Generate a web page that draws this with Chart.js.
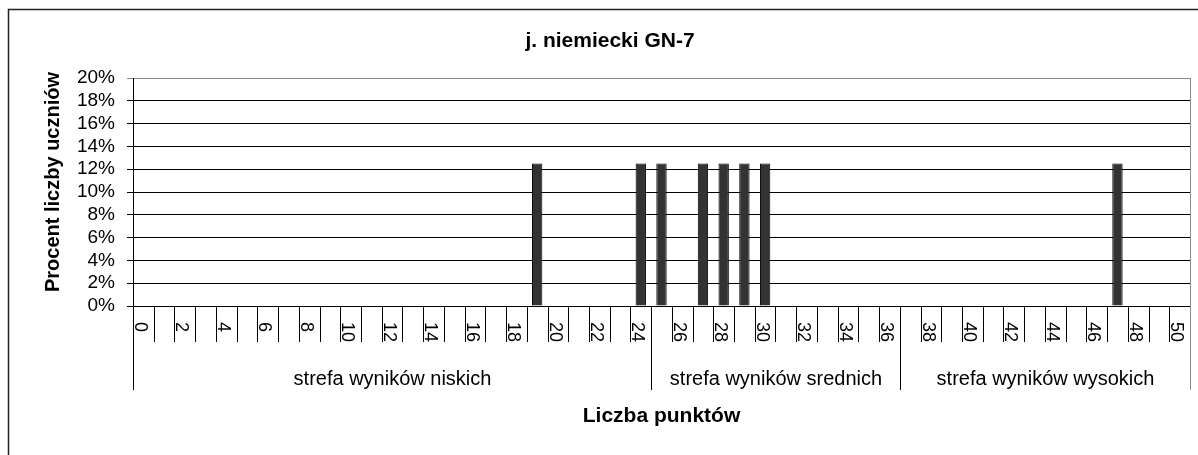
<!DOCTYPE html>
<html>
<head>
<meta charset="utf-8">
<script src="https://cdn.jsdelivr.net/npm/chart.js@4/dist/chart.umd.min.js"></script>
<style>
  html, body { margin: 0; padding: 0; background: #fff; }
  canvas { display: block; }
</style>
</head>
<body>
<canvas id="myChart" width="1198" height="455"></canvas>
<script>
// data
var categories = ['0','1','2','3','4','5','6','7','8','9','10','11','12','13','14','15','16','17','18','19','20',
  '21','22','23','24','25','26','27','28','29','30','31','32','33','34','35','36','37','38','39','40',
  '41','42','43','44','45','46','47','48','49','50'];
var percents = [0,0,0,0,0,0,0,0,0,0,0,0,0,0,0,0,0,0,0,12.5,0,
  0,0,0,12.5,12.5,0,12.5,12.5,12.5,12.5,0,0,0,0,0,0,0,0,0,0,
  0,0,0,0,0,0,12.5,0,0,0];
var xTickLabels = ['0','','2','','4','','6','','8','','10','','12','','14','','16','','18','','20',
  '','22','','24','','26','','28','','30','','32','','34','','36','','38','','40',
  '','42','','44','','46','','48','','50'];
var yTicks = [0,2,4,6,8,10,12,14,16,18,20];
var groupNames = ['strefa wyników niskich', 'strefa wyników srednich', 'strefa wyników wysokich'];
var groupFirst = [0, 25, 37];
var groupLast = [24, 36, 50];

var chartTitle = 'j. niemiecki GN-7';
var yTitle = 'Procent liczby uczniów';
var xTitle = 'Liczba punktów';
var fontFam = '"Liberation Sans", Arial, sans-serif';

var excelAxis = {
  id: 'excelAxis',
  beforeDraw: function(chart) {
    var ctx = chart.ctx;
    ctx.save();
    ctx.fillStyle = '#fff';
    ctx.fillRect(0, 0, chart.width, chart.height);
    // outer frame
    ctx.strokeStyle = '#222';
    ctx.lineWidth = 1.5;
    ctx.beginPath();
    ctx.moveTo(8.5, chart.height);
    ctx.lineTo(8.5, 9.5);
    ctx.lineTo(chart.width, 9.5);
    ctx.stroke();
    ctx.restore();
  },
  afterDraw: function(chart) {
    var ctx = chart.ctx;
    var a = chart.chartArea;
    var x = chart.scales.x;
    var w = x.getPixelForValue(1) - x.getPixelForValue(0);
    var edge = function(i) { return Math.round(x.getPixelForValue(0) - w / 2 + i * w) + 0.5; };
    ctx.save();
    ctx.lineWidth = 1;
    ctx.strokeStyle = '#000';
    // small ticks between categories
    ctx.beginPath();
    for (var i = 1; i < categories.length; i++) {
      ctx.moveTo(edge(i), a.bottom);
      ctx.lineTo(edge(i), 342);
    }
    ctx.stroke();
    // group separators
    ctx.beginPath();
    for (var g = 0; g < groupFirst.length; g++) {
      ctx.moveTo(edge(groupFirst[g]), a.bottom);
      ctx.lineTo(edge(groupFirst[g]), 390);
    }
    ctx.stroke();
    // right border of plot
    ctx.strokeStyle = '#8c8c8c';
    ctx.beginPath();
    ctx.moveTo(edge(categories.length), a.top);
    ctx.lineTo(edge(categories.length), 390);
    ctx.stroke();

    ctx.fillStyle = '#000';
    // rotated tick labels
    ctx.font = '18px ' + fontFam;
    ctx.textAlign = 'left';
    ctx.textBaseline = 'alphabetic';
    for (var k = 0; k < xTickLabels.length; k++) {
      if (!xTickLabels[k]) continue;
      ctx.save();
      ctx.translate(edge(k) + 1, 322);
      ctx.rotate(Math.PI / 2);
      ctx.fillText(xTickLabels[k], 0, 0);
      ctx.restore();
    }
    // group labels
    ctx.font = '20px ' + fontFam;
    ctx.textAlign = 'center';
    for (var j = 0; j < groupNames.length; j++) {
      var cx = (edge(groupFirst[j]) + edge(groupLast[j] + 1)) / 2;
      ctx.fillText(groupNames[j], cx, 385);
    }
    // titles
    ctx.font = 'bold 21px ' + fontFam;
    ctx.fillText(chartTitle, 610, 47);
    ctx.fillText(xTitle, (a.left + a.right) / 2, 422);
    ctx.font = 'bold 20px ' + fontFam;
    ctx.save();
    ctx.translate(59, 182);
    ctx.rotate(-Math.PI / 2);
    ctx.fillText(yTitle, 0, 0);
    ctx.restore();
    ctx.restore();
  }
};

var ctx = document.getElementById('myChart');
var myChart = new Chart(ctx, {
  type: 'bar',
  data: {
    labels: categories,
    datasets: [{
      label: 'Procent',
      data: percents,
      backgroundColor: '#333333',
      borderColor: '#000',
      borderWidth: 1,
      barPercentage: 0.5,
      categoryPercentage: 1.0
    }]
  },
  options: {
    responsive: false,
    animation: false,
    layout: { padding: { top: 78, right: 8, left: 0, bottom: 0 } },
    plugins: {
      legend: { display: false },
      tooltip: { enabled: false }
    },
    scales: {
      x: {
        ticks: { display: false },
        grid: { display: false },
        border: { display: true, color: '#000' },
        afterFit: function(scale) { scale.height = 455 - 306; }
      },
      y: {
        min: yTicks[0],
        max: yTicks[yTicks.length - 1],
        afterBuildTicks: function(scale) {
          scale.ticks = yTicks.map(function(v) { return { value: v }; });
        },
        ticks: {
          autoSkip: false,
          padding: 12,
          color: '#000',
          font: { family: fontFam, size: 19 },
          callback: function(v) { return v + '%'; }
        },
        grid: {
          tickLength: 6,
          color: function(c) { return c.tick && c.tick.value === 20 ? '#8c8c8c' : '#000'; }
        },
        border: { display: true, color: '#000' },
        afterFit: function(scale) { scale.width = 133; }
      }
    }
  },
  plugins: [excelAxis]
});
</script>
</body>
</html>
